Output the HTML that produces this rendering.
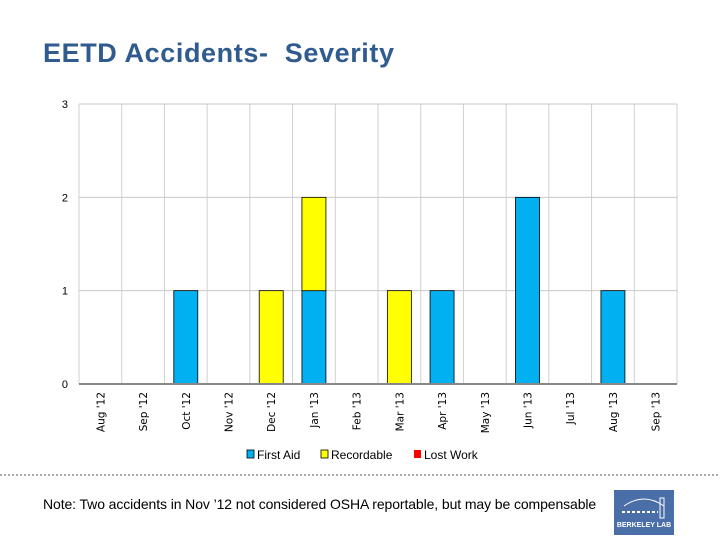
<!DOCTYPE html>
<html><head><meta charset="utf-8"><style>
body{margin:0;width:720px;height:540px;background:#fff;overflow:hidden;font-family:"Liberation Sans",sans-serif;position:relative}
#title{position:absolute;left:43px;top:38px;font-size:27px;font-weight:bold;color:#2f5b8e;letter-spacing:0.6px;white-space:pre}
#note{position:absolute;left:43px;top:496px;font-size:14px;color:#000;letter-spacing:-0.1px}
#logo{position:absolute;left:614px;top:490px;width:60px;height:45px;background:#4a6ea8;color:#fff;font-size:7px;font-weight:bold;text-align:center}
</style></head><body>
<div id="title">EETD Accidents-  Severity</div>
<svg id="chart" width="720" height="540" style="position:absolute;left:0;top:0"></svg>
<div id="note">Note: Two accidents in Nov ’12 not considered OSHA reportable, but may be compensable</div>
<div id="logo"><svg width="60" height="30"><path d="M10 16 Q30 2 50 16" stroke="#fff" fill="none"/><line x1="8" y1="22" x2="44" y2="22" stroke="#fff" stroke-dasharray="3 2" stroke-width="2"/><rect x="46" y="8" width="4" height="20" fill="none" stroke="#fff"/></svg><div>BERKELEY LAB</div></div>
<script>
const categories=["Aug '12","Sep '12","Oct '12","Nov '12","Dec '12","Jan '13","Feb '13","Mar '13","Apr '13","May '13","Jun '13","Jul '13","Aug '13","Sep '13"];
const firstAid=[0,0,1,0,0,1,0,0,1,0,2,0,1,0];
const recordable=[0,0,0,0,1,1,0,1,0,0,0,0,0,0];
const lostWork=[0,0,0,0,0,0,0,0,0,0,0,0,0,0];
const yTicks=[0,1,2,3];
const svg=document.getElementById('chart');const NS='http://www.w3.org/2000/svg';
const X0=79,X1=677,Y0=384,Y1=104,YMAX=3;
const bw=(X1-X0)/categories.length;
const x=i=>X0+i*bw;const y=v=>Y0-(v/YMAX)*(Y0-Y1);
function mk(t,a){const e=document.createElementNS(NS,t);for(const k in a)e.setAttribute(k,a[k]);svg.appendChild(e);return e;}
for(let i=0;i<=categories.length;i++){const g=mk('line',{x1:x(i),x2:x(i),y1:Y1,y2:Y0,stroke:'#d0d0d0'});

}
yTicks.forEach(t=>{const g=mk('line',{x1:X0,x2:X1,y1:y(t),y2:y(t),stroke:'#c8c8c8'});


const l=mk('text',{x:68,y:y(t)+4,'font-size':11,'text-anchor':'end','font-family':'Liberation Sans, sans-serif'});l.textContent=t;

});
const series=[[firstAid,'#00b0f0','first-aid'],[recordable,'#ffff00','recordable'],[lostWork,'#ff0000','lost-work']];
categories.forEach((c,i)=>{let base=0;const cx=x(i)+bw/2;
series.forEach(([arr,col,n])=>{const v=arr[i];if(v>0){const r=mk('rect',{x:cx-12,y:y(base+v),width:24,height:y(base)-y(base+v),fill:col,stroke:'#000','stroke-width':0.8});

}base+=v;});
const t=mk('text',{transform:`translate(${cx+4},392) rotate(-90)`,'font-size':10.5,'text-anchor':'end','font-family':'DejaVu Sans, sans-serif'});t.textContent=c;

});
const ax=mk('line',{x1:X0,x2:X1,y1:Y0,y2:Y0,stroke:'#888','stroke-width':2});


const leg=[['First Aid','#00b0f0',247],['Recordable','#ffff00',321],['Lost Work','#ff0000',414]];
leg.forEach(([n,c,lx])=>{const r=mk('rect',{x:lx,y:450,width:7,height:8,fill:c,stroke:c=='#ff0000'?'none':'#000','stroke-width':0.8});


const t=mk('text',{x:lx+10,y:459,'font-size':12,'font-family':'Liberation Sans Narrow, Liberation Sans, sans-serif'});t.textContent=n;

});
const d=mk('line',{x1:0,x2:720,y1:475,y2:475,stroke:'#555','stroke-dasharray':'2 2'});


</script>
</body></html>
